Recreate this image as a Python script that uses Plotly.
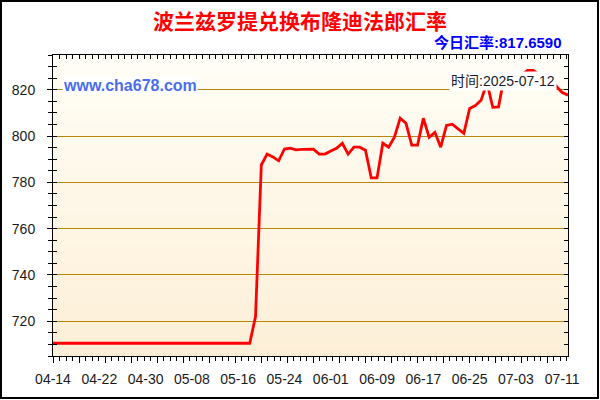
import pandas as pd
import plotly.graph_objects as go

# ---------------- data ----------------
dates = pd.date_range("2025-04-14", "2025-07-12", freq="D").strftime("%Y-%m-%d").tolist()

rates = [
    710.5, 710.5, 710.5, 710.5, 710.5, 710.5, 710.5, 710.5, 710.5, 710.5,
    710.5, 710.5, 710.5, 710.5, 710.5, 710.5, 710.5, 710.5, 710.5, 710.5,
    710.5, 710.5, 710.5, 710.5, 710.5, 710.5, 710.5, 710.5, 710.5, 710.5,
    710.5, 710.5, 710.5, 710.5, 710.5, 722.0, 787.5, 792.2, 791.0, 789.3,
    794.4, 794.8, 794.0, 794.2, 794.3, 794.3, 792.2, 792.2, 793.5, 794.7,
    796.9, 792.2, 795.2, 795.2, 793.9, 781.9, 781.9, 796.9, 795.2, 799.5,
    807.7, 805.5, 796.1, 796.1, 807.7, 799.5, 801.6, 795.2, 804.6, 805.1,
    803.1, 801.2, 811.9, 813.2, 815.6, 823.0, 812.4, 812.6, 826.0, 825.6,
    826.0, 826.4, 828.3, 828.3, 826.4, 825.8, 825.0, 821.4, 818.8, 817.659,
]

tick_dates = ["2025-04-14", "2025-04-22", "2025-04-30", "2025-05-08", "2025-05-16", "2025-05-24",
              "2025-06-01", "2025-06-09", "2025-06-17", "2025-06-25", "2025-07-03", "2025-07-11"]
tick_labels = ["04-14", "04-22", "04-30", "05-08", "05-16", "05-24",
               "06-01", "06-09", "06-17", "06-25", "07-03", "07-11"]

title_text = "波兰兹罗提兑换布隆迪法郎汇率"
today_text = "今日汇率:817.6590"
site_text = "www.cha678.com"
time_text = "时间:2025-07-12"

# ---------------- layout geometry ----------------
W, H = 600, 400
L, R, T, B = 53, 32, 55, 44
PW, PH = W - L - R, H - T - B


def px(xp):
    return (xp - L) / PW


def py(yp):
    return (H - B - yp) / PH


FONT = "Liberation Sans, Arial, Noto Sans CJK SC, sans-serif"

fig = go.Figure()
fig.add_trace(go.Scatter(x=dates, y=rates, mode="lines",
                         line=dict(color="#FF0000", width=2.8),
                         showlegend=False, hoverinfo="x+y"))
# helper traces so overlay axes are drawn
fig.add_trace(go.Scatter(x=[None], y=[None], xaxis="x2", yaxis="y2", showlegend=False, hoverinfo="skip"))
fig.add_trace(go.Scatter(x=[None], y=[None], xaxis="x3", yaxis="y3", showlegend=False, hoverinfo="skip"))

# background gradient bands
n = 40
top_c = (255, 254, 246)
bot_c = (253, 239, 215)
shapes = []
for k in range(n):
    t = (k + 0.5) / n
    c = tuple(round(bot_c[j] + (top_c[j] - bot_c[j]) * t) for j in range(3))
    shapes.append(dict(type="rect", xref="x domain", yref="y domain",
                       x0=0, x1=1, y0=k / n, y1=(k + 1) / n + 0.002,
                       fillcolor="rgb(%d,%d,%d)" % c, line=dict(width=0), layer="below"))
# outer frame
shapes.append(dict(type="rect", xref="paper", yref="paper",
                   x0=px(1), x1=px(598), y0=py(398), y1=py(1),
                   line=dict(color="black", width=2), fillcolor="rgba(0,0,0,0)", layer="above"))

xr = [dates[0], dates[-1]]
yr = [705, 835]
nx = PW / 6.5

fig.update_layout(
    width=W, height=H,
    margin=dict(l=L, r=R, t=T, b=B, pad=0),
    paper_bgcolor="white",
    plot_bgcolor="rgb(254,247,230)",
    shapes=shapes,
    title=dict(text=title_text, x=0.5, xref="container", xanchor="center",
               y=1 - 22 / H, yref="container", yanchor="middle",
               font=dict(family="Noto Sans CJK SC, sans-serif", size=21, color="#FF0000", weight="bold")),
    xaxis=dict(type="date", range=xr, tickvals=tick_dates, ticktext=tick_labels,
               ticks="", showgrid=False, zeroline=False,
               showline=True, linecolor="black", linewidth=1, mirror=True,
               tickfont=dict(family=FONT, size=14, color="#1a1a1a"),
               ticklabelstandoff=10),
    xaxis2=dict(overlaying="x", anchor="y", side="bottom", range=[0, nx],
                tickmode="linear", tick0=0, dtick=4, ticks="outside", ticklen=6,
                tickcolor="black", showticklabels=False, showgrid=False, zeroline=False,
                showline=False,
                minor=dict(dtick=1, tick0=0, ticks="outside", ticklen=4, tickcolor="black", showgrid=False)),
    xaxis3=dict(overlaying="x", anchor="y", side="top", range=[0, nx],
                tickmode="linear", tick0=0, dtick=1, ticks="inside", ticklen=4,
                tickcolor="black", showticklabels=False, showgrid=False, zeroline=False,
                showline=False),
    yaxis=dict(range=yr, tickmode="linear", tick0=0, dtick=20,
               ticks="outside", ticklen=5, tickcolor="black",
               showgrid=True, gridcolor="#B8860B", gridwidth=1, zeroline=False,
               showline=True, linecolor="black", linewidth=1, mirror=True,
               tickfont=dict(family=FONT, size=14, color="#1a1a1a"),
               ticklabelstandoff=9,
               minor=dict(dtick=5, ticks="outside", ticklen=4, tickcolor="black", showgrid=False)),
    yaxis2=dict(overlaying="y", anchor="x", side="right", range=yr,
                tickmode="linear", tick0=0, dtick=5, ticks="inside", ticklen=4,
                tickcolor="black", showticklabels=False, showgrid=False, zeroline=False, showline=False),
    yaxis3=dict(overlaying="y", anchor="x", side="left", range=yr,
                tickmode="linear", tick0=0, dtick=5, ticks="inside", ticklen=4,
                tickcolor="black", showticklabels=False, showgrid=False, zeroline=False, showline=False),
    annotations=[
        dict(text=today_text, xref="paper", yref="paper", x=px(564), y=py(43),
             xanchor="right", yanchor="middle", showarrow=False,
             font=dict(family=FONT, size=15, color="#0000FF", weight="bold")),
        dict(text=site_text, xref="paper", yref="paper", x=px(62), y=py(85),
             xanchor="left", yanchor="middle", showarrow=False, bgcolor="white",
             font=dict(family=FONT, size=16, color="#4A6CF0", weight="bold"), borderpad=0),
        dict(text=time_text, xref="paper", yref="paper", x=px(557), y=py(81),
             xanchor="right", yanchor="middle", showarrow=False, bgcolor="white",
             font=dict(family=FONT, size=14, color="#1a1a2a"), borderpad=1),
    ],
)

fig.write_html("out.html",
               config={"displayModeBar": False},
               post_script="document.body.style.margin='0';document.body.style.overflow='hidden';")
